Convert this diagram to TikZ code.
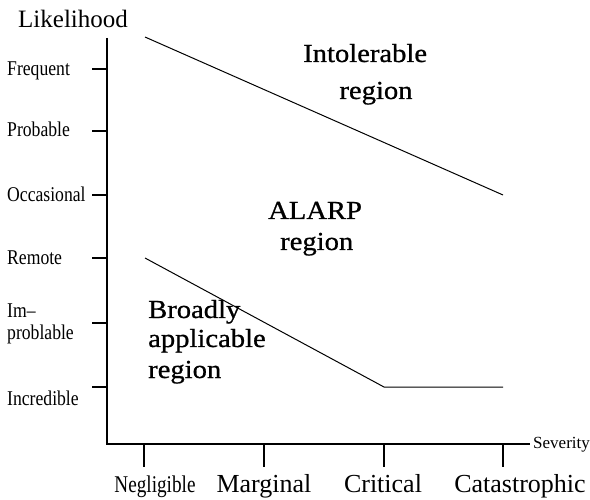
\documentclass[tikz,border=0pt]{standalone}
\usepackage{fontspec}
\setmainfont{Liberation Serif}
\newfontfamily\narrowfont[FakeStretch=0.84]{Liberation Serif}
\newfontfamily\negfont[FakeStretch=0.8]{Liberation Serif}
\newfontfamily\regionfont[FakeStretch=1.1,FakeBold=0.8]{Liberation Serif}
\usetikzlibrary{positioning}

\begin{document}
\begin{tikzpicture}[x=1pt,y=-1pt,
        axis/.style={line width=1.3pt},
        boundary/.style={line width=1pt},
        ylabel/.style={anchor=base west,inner sep=0pt,font=\narrowfont\fontsize{21}{21}\selectfont},
        xlabel/.style={anchor=base,inner sep=0pt,font=\fontsize{26}{26}\selectfont},
        regionlabel/.style={anchor=base west,inner sep=0pt,font=\regionfont\fontsize{26}{26}\selectfont}]
        \useasboundingbox (0,0) rectangle (590,500);

        \coordinate (ytop) at (107,38);
        \coordinate (origin) at (107,444);
        \coordinate (xend) at (530,444);
        \draw[axis] (ytop) -- (origin) -- (xend);

        \foreach \i/\y in {1/69, 2/131, 3/195, 4/258, 5/323, 6/387}{
            \coordinate (ly-\i) at (107,\y);
            \coordinate (ly-\i-out) at (92,\y);
            \draw[axis] (ly-\i) -- (ly-\i-out);
        }
        \foreach \i/\x in {1/144, 2/264, 3/384, 4/503}{
            \coordinate (sx-\i) at (\x,444);
            \coordinate (sx-\i-out) at (\x,467);
            \draw[axis] (sx-\i) -- (sx-\i-out);
        }

        \foreach \i/\b/\label in {1/76/Frequent, 2/137/Probable, 3/202/Occasional, 4/265/Remote,
            5/318/Im\textendash, 6/340/problable, 7/405/Incredible}
            \node[ylabel] (ylab-\i) at (7,\b) {\label};

        \node[anchor=base west,inner sep=0pt,font=\fontsize{25}{25}\selectfont] (likelihood) at (18,28) {Likelihood};
        \node[anchor=base west,inner sep=0pt,font=\fontsize{17}{17}\selectfont] (severity) at (533,448) {Severity};

        \node[xlabel,font=\negfont\fontsize{24}{24}\selectfont] (xlab-1) at (155,492) {Negligible};
        \foreach \i/\x/\label in {2/264/Marginal, 3/383/Critical, 4/520/Catastrophic}
            \node[xlabel] (xlab-\i) at (\x,492) {\label};

        \coordinate (hi-a) at (145,37);
        \coordinate (hi-b) at (503,195);
        \coordinate (lo-a) at (145,258);
        \coordinate (lo-b) at (384,387);
        \coordinate (lo-c) at (503,387);
        \draw[boundary] (hi-a) -- (hi-b);
        \draw[boundary] (lo-a) -- (lo-b) -- (lo-c);

        \node[regionlabel] (intol-1) at (303,62) {Intolerable};
        \node[regionlabel,anchor=base] (intol-2) at (376,99) {region};
        \node[regionlabel] (alarp-1) at (268,219) {ALARP};
        \node[regionlabel] (alarp-2) at (280,250) {region};
        \node[regionlabel] (broad-1) at (148,318) {Broadly};
        \node[regionlabel] (broad-2) at (148,347) {applicable};
        \node[regionlabel] (broad-3) at (148,378) {region};
\end{tikzpicture}
\end{document}
